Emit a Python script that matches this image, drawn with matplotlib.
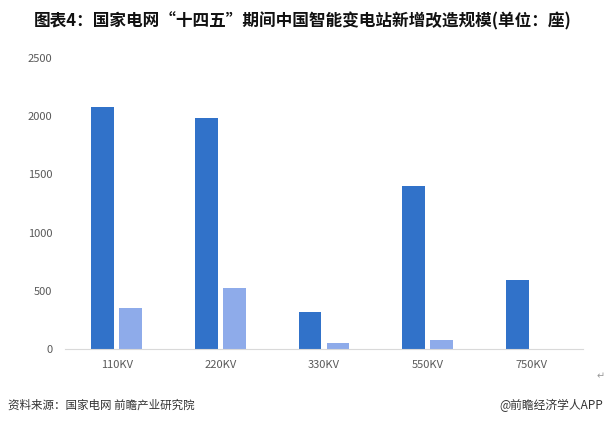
import matplotlib
matplotlib.use("Agg")
import matplotlib.pyplot as plt
import numpy as np

plt.rcParams['font.family'] = ['Noto Sans CJK SC', 'DejaVu Sans']

categories = ['110KV', '220KV', '330KV', '550KV', '750KV']
series_dark = [2080, 1985, 315, 1400, 590]
series_light = [350, 520, 50, 78, np.nan]
y_ticks = [0, 500, 1000, 1500, 2000, 2500]

title = '图表4：国家电网“十四五”期间中国智能变电站新增改造规模(单位：座)'
source = '资料来源：国家电网 前瞻产业研究院'
credit = '@前瞻经济学人APP'

fig = plt.figure(figsize=(6.06, 4.26), dpi=100)
ax = fig.add_axes([65 / 606, 1 - 349 / 426, 518 / 606, 291 / 426])

x = np.arange(len(categories))
w = 0.22
ax.bar(x - 0.135, series_dark, width=w, color='#3172C9')
ax.bar(x + 0.135, series_light, width=w, color='#8EABEA')

ax.set_xlim(-0.5, len(categories) - 0.5)
ax.set_ylim(0, 2500)
ax.set_yticks(y_ticks)
ax.set_yticklabels([str(v) for v in y_ticks])
ax.set_xticks(x)
ax.set_xticklabels(categories)
ax.tick_params(axis='both', length=0, labelsize=8, colors='#595959')
ax.tick_params(axis='y', pad=9)
ax.tick_params(axis='x', pad=8)
for s in ['top', 'right', 'left']:
    ax.spines[s].set_visible(False)
ax.spines['bottom'].set_color('#D9D9D9')

fig.text(0.5, 1 - 21 / 426, title, ha='center', va='center',
         fontsize=12, fontweight='bold', color='#111111')
fig.text(8 / 606, 1 - 405 / 426, source, ha='left', va='center',
         fontsize=8.3, color='#333333')
fig.text(603 / 606, 1 - 405 / 426, credit, ha='right', va='center',
         fontsize=8.5, color='#333333')
fig.text(601 / 606, 1 - 376 / 426, '↵', ha='center', va='center',
         fontsize=7, color='#999999', family=['DejaVu Sans'])

fig.savefig('out.png', dpi=100)
